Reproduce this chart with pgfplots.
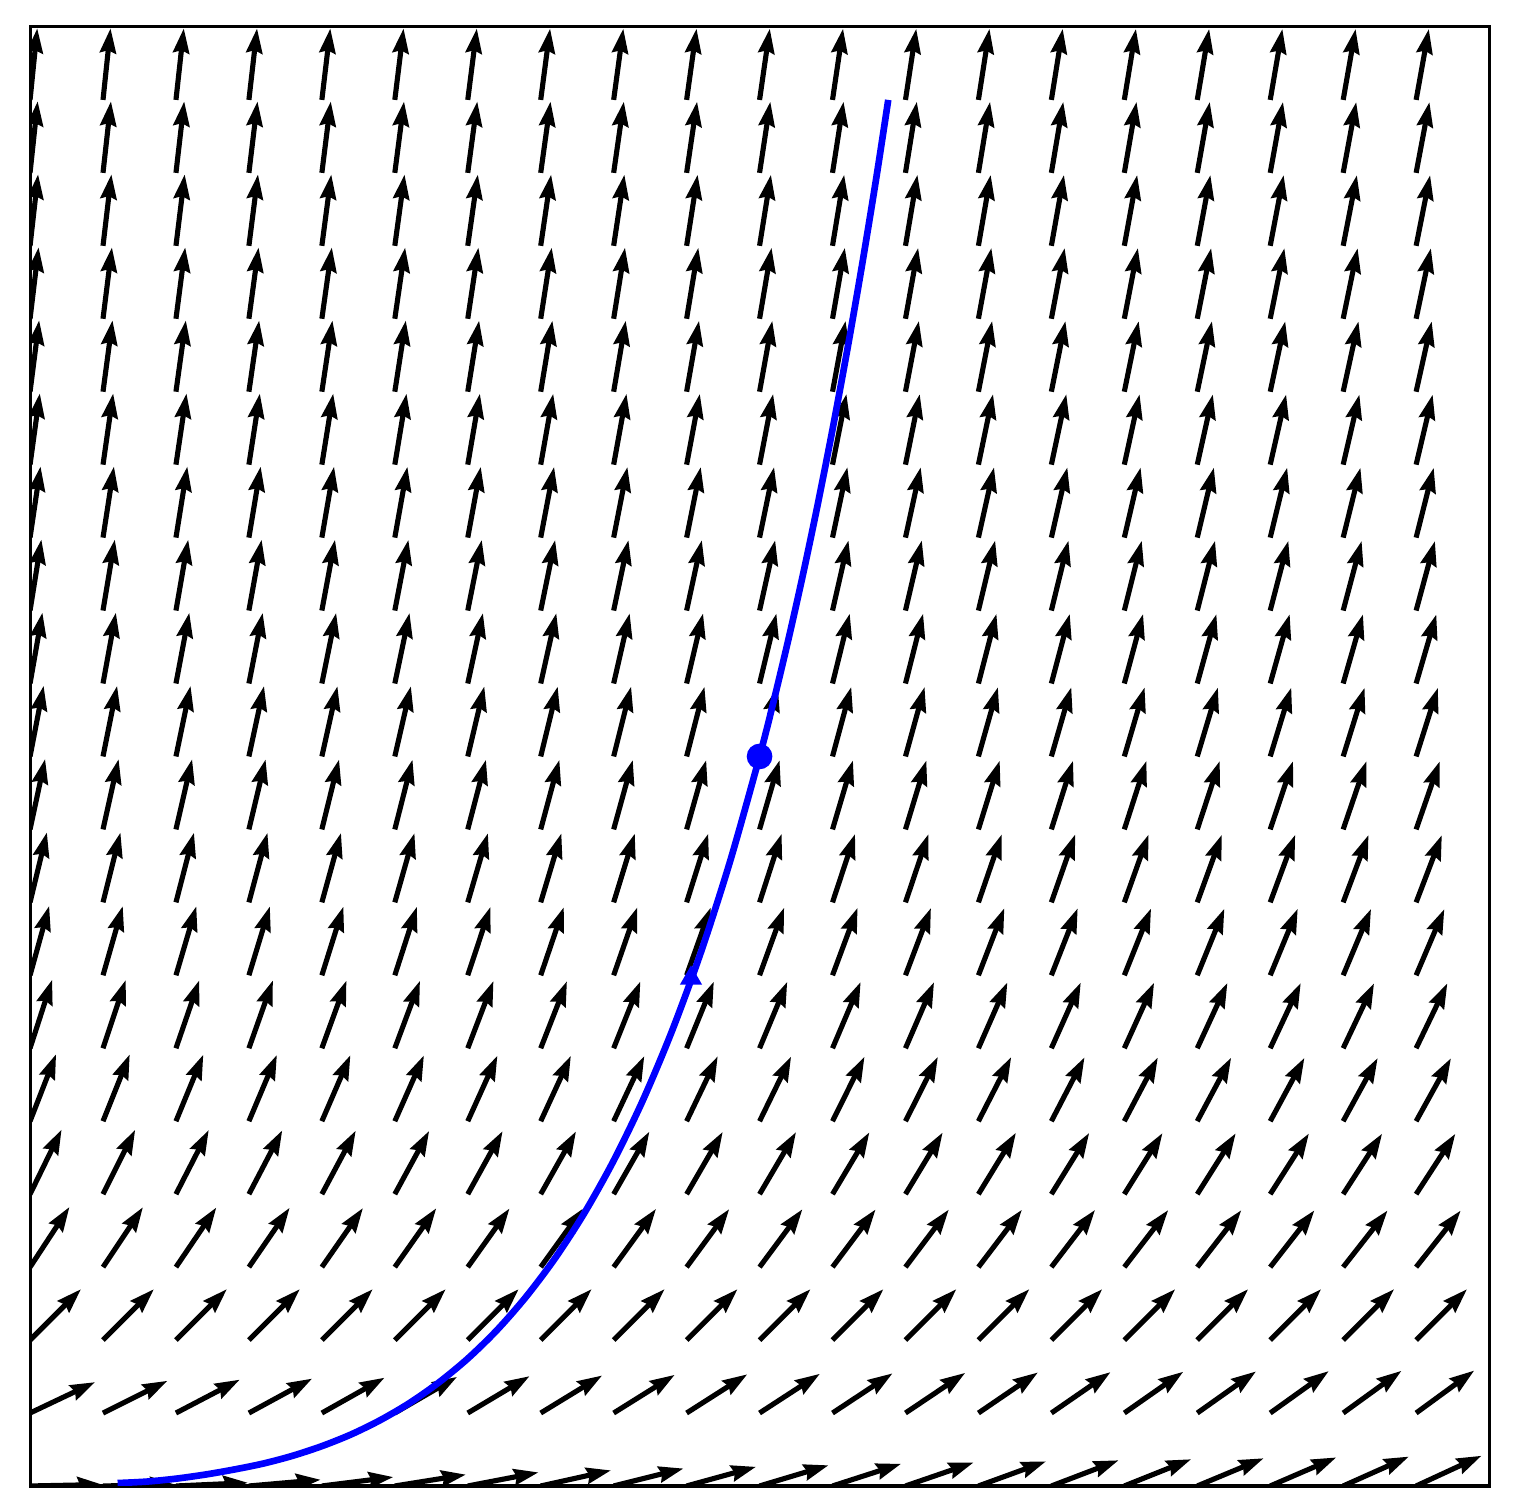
\documentclass[border=0pt]{standalone}
\usepackage{pgfplots}
\pgfplotsset{compat=1.18}
\usepackage{pgfplotstable}
\usetikzlibrary{arrows.meta}

% direction field: arrow tail (x,y) and slope s = dy/dx
\pgfplotstableread{
x y s
0.00 0.00 0.020
0.00 0.05 0.475
0.00 0.10 1.000
0.00 0.15 1.525
0.00 0.20 2.050
0.00 0.25 2.575
0.00 0.30 3.100
0.00 0.35 3.625
0.00 0.40 4.150
0.00 0.45 4.675
0.00 0.50 5.200
0.00 0.55 5.725
0.00 0.60 6.250
0.00 0.65 6.775
0.00 0.70 7.300
0.00 0.75 7.825
0.00 0.80 8.350
0.00 0.85 8.875
0.00 0.90 9.400
0.00 0.95 9.925
0.05 0.00 0.020
0.05 0.05 0.500
0.05 0.10 1.000
0.05 0.15 1.500
0.05 0.20 2.000
0.05 0.25 2.500
0.05 0.30 3.000
0.05 0.35 3.500
0.05 0.40 4.000
0.05 0.45 4.500
0.05 0.50 5.000
0.05 0.55 5.500
0.05 0.60 6.000
0.05 0.65 6.500
0.05 0.70 7.000
0.05 0.75 7.500
0.05 0.80 8.000
0.05 0.85 8.500
0.05 0.90 9.000
0.05 0.95 9.500
0.10 0.00 0.045
0.10 0.05 0.523
0.10 0.10 1.000
0.10 0.15 1.477
0.10 0.20 1.955
0.10 0.25 2.432
0.10 0.30 2.909
0.10 0.35 3.387
0.10 0.40 3.864
0.10 0.45 4.341
0.10 0.50 4.818
0.10 0.55 5.296
0.10 0.60 5.773
0.10 0.65 6.250
0.10 0.70 6.728
0.10 0.75 7.205
0.10 0.80 7.682
0.10 0.85 8.160
0.10 0.90 8.637
0.10 0.95 9.114
0.15 0.00 0.087
0.15 0.05 0.544
0.15 0.10 1.000
0.15 0.15 1.457
0.15 0.20 1.913
0.15 0.25 2.370
0.15 0.30 2.826
0.15 0.35 3.283
0.15 0.40 3.739
0.15 0.45 4.196
0.15 0.50 4.652
0.15 0.55 5.109
0.15 0.60 5.565
0.15 0.65 6.022
0.15 0.70 6.478
0.15 0.75 6.935
0.15 0.80 7.391
0.15 0.85 7.848
0.15 0.90 8.304
0.15 0.95 8.761
0.20 0.00 0.125
0.20 0.05 0.563
0.20 0.10 1.000
0.20 0.15 1.438
0.20 0.20 1.875
0.20 0.25 2.313
0.20 0.30 2.750
0.20 0.35 3.188
0.20 0.40 3.625
0.20 0.45 4.063
0.20 0.50 4.500
0.20 0.55 4.938
0.20 0.60 5.375
0.20 0.65 5.813
0.20 0.70 6.250
0.20 0.75 6.688
0.20 0.80 7.125
0.20 0.85 7.563
0.20 0.90 8.000
0.20 0.95 8.438
0.25 0.00 0.160
0.25 0.05 0.580
0.25 0.10 1.000
0.25 0.15 1.420
0.25 0.20 1.840
0.25 0.25 2.260
0.25 0.30 2.680
0.25 0.35 3.100
0.25 0.40 3.520
0.25 0.45 3.940
0.25 0.50 4.360
0.25 0.55 4.780
0.25 0.60 5.200
0.25 0.65 5.620
0.25 0.70 6.040
0.25 0.75 6.460
0.25 0.80 6.880
0.25 0.85 7.300
0.25 0.90 7.720
0.25 0.95 8.140
0.30 0.00 0.192
0.30 0.05 0.596
0.30 0.10 1.000
0.30 0.15 1.404
0.30 0.20 1.808
0.30 0.25 2.211
0.30 0.30 2.615
0.30 0.35 3.019
0.30 0.40 3.423
0.30 0.45 3.827
0.30 0.50 4.230
0.30 0.55 4.634
0.30 0.60 5.038
0.30 0.65 5.442
0.30 0.70 5.846
0.30 0.75 6.249
0.30 0.80 6.653
0.30 0.85 7.057
0.30 0.90 7.461
0.30 0.95 7.865
0.35 0.00 0.222
0.35 0.05 0.611
0.35 0.10 1.000
0.35 0.15 1.389
0.35 0.20 1.778
0.35 0.25 2.167
0.35 0.30 2.556
0.35 0.35 2.945
0.35 0.40 3.333
0.35 0.45 3.722
0.35 0.50 4.111
0.35 0.55 4.500
0.35 0.60 4.889
0.35 0.65 5.278
0.35 0.70 5.667
0.35 0.75 6.056
0.35 0.80 6.445
0.35 0.85 6.834
0.35 0.90 7.222
0.35 0.95 7.611
0.40 0.00 0.250
0.40 0.05 0.625
0.40 0.10 1.000
0.40 0.15 1.375
0.40 0.20 1.750
0.40 0.25 2.125
0.40 0.30 2.500
0.40 0.35 2.875
0.40 0.40 3.250
0.40 0.45 3.625
0.40 0.50 4.000
0.40 0.55 4.375
0.40 0.60 4.750
0.40 0.65 5.125
0.40 0.70 5.500
0.40 0.75 5.875
0.40 0.80 6.250
0.40 0.85 6.625
0.40 0.90 7.000
0.40 0.95 7.375
0.45 0.00 0.276
0.45 0.05 0.638
0.45 0.10 1.000
0.45 0.15 1.362
0.45 0.20 1.724
0.45 0.25 2.086
0.45 0.30 2.448
0.45 0.35 2.811
0.45 0.40 3.173
0.45 0.45 3.535
0.45 0.50 3.897
0.45 0.55 4.259
0.45 0.60 4.621
0.45 0.65 4.983
0.45 0.70 5.345
0.45 0.75 5.707
0.45 0.80 6.069
0.45 0.85 6.432
0.45 0.90 6.794
0.45 0.95 7.156
0.50 0.00 0.300
0.50 0.05 0.650
0.50 0.10 1.000
0.50 0.15 1.350
0.50 0.20 1.700
0.50 0.25 2.050
0.50 0.30 2.400
0.50 0.35 2.750
0.50 0.40 3.100
0.50 0.45 3.450
0.50 0.50 3.800
0.50 0.55 4.150
0.50 0.60 4.500
0.50 0.65 4.850
0.50 0.70 5.200
0.50 0.75 5.550
0.50 0.80 5.900
0.50 0.85 6.250
0.50 0.90 6.600
0.50 0.95 6.950
0.55 0.00 0.323
0.55 0.05 0.661
0.55 0.10 1.000
0.55 0.15 1.339
0.55 0.20 1.677
0.55 0.25 2.016
0.55 0.30 2.355
0.55 0.35 2.694
0.55 0.40 3.032
0.55 0.45 3.371
0.55 0.50 3.710
0.55 0.55 4.048
0.55 0.60 4.387
0.55 0.65 4.726
0.55 0.70 5.064
0.55 0.75 5.403
0.55 0.80 5.742
0.55 0.85 6.081
0.55 0.90 6.419
0.55 0.95 6.758
0.60 0.00 0.344
0.60 0.05 0.672
0.60 0.10 1.000
0.60 0.15 1.328
0.60 0.20 1.656
0.60 0.25 1.984
0.60 0.30 2.312
0.60 0.35 2.641
0.60 0.40 2.969
0.60 0.45 3.297
0.60 0.50 3.625
0.60 0.55 3.953
0.60 0.60 4.281
0.60 0.65 4.609
0.60 0.70 4.937
0.60 0.75 5.265
0.60 0.80 5.593
0.60 0.85 5.922
0.60 0.90 6.250
0.60 0.95 6.578
0.65 0.00 0.364
0.65 0.05 0.682
0.65 0.10 1.000
0.65 0.15 1.318
0.65 0.20 1.636
0.65 0.25 1.955
0.65 0.30 2.273
0.65 0.35 2.591
0.65 0.40 2.909
0.65 0.45 3.227
0.65 0.50 3.546
0.65 0.55 3.864
0.65 0.60 4.182
0.65 0.65 4.500
0.65 0.70 4.818
0.65 0.75 5.137
0.65 0.80 5.455
0.65 0.85 5.773
0.65 0.90 6.091
0.65 0.95 6.409
0.70 0.00 0.382
0.70 0.05 0.691
0.70 0.10 1.000
0.70 0.15 1.309
0.70 0.20 1.618
0.70 0.25 1.926
0.70 0.30 2.235
0.70 0.35 2.544
0.70 0.40 2.853
0.70 0.45 3.162
0.70 0.50 3.470
0.70 0.55 3.779
0.70 0.60 4.088
0.70 0.65 4.397
0.70 0.70 4.706
0.70 0.75 5.014
0.70 0.80 5.323
0.70 0.85 5.632
0.70 0.90 5.941
0.70 0.95 6.250
0.75 0.00 0.400
0.75 0.05 0.700
0.75 0.10 1.000
0.75 0.15 1.300
0.75 0.20 1.600
0.75 0.25 1.900
0.75 0.30 2.200
0.75 0.35 2.500
0.75 0.40 2.800
0.75 0.45 3.100
0.75 0.50 3.400
0.75 0.55 3.700
0.75 0.60 4.000
0.75 0.65 4.300
0.75 0.70 4.600
0.75 0.75 4.900
0.75 0.80 5.200
0.75 0.85 5.500
0.75 0.90 5.800
0.75 0.95 6.100
0.80 0.00 0.417
0.80 0.05 0.708
0.80 0.10 1.000
0.80 0.15 1.292
0.80 0.20 1.583
0.80 0.25 1.875
0.80 0.30 2.167
0.80 0.35 2.459
0.80 0.40 2.750
0.80 0.45 3.042
0.80 0.50 3.334
0.80 0.55 3.625
0.80 0.60 3.917
0.80 0.65 4.209
0.80 0.70 4.500
0.80 0.75 4.792
0.80 0.80 5.084
0.80 0.85 5.376
0.80 0.90 5.667
0.80 0.95 5.959
0.85 0.00 0.432
0.85 0.05 0.716
0.85 0.10 1.000
0.85 0.15 1.284
0.85 0.20 1.568
0.85 0.25 1.851
0.85 0.30 2.135
0.85 0.35 2.419
0.85 0.40 2.703
0.85 0.45 2.987
0.85 0.50 3.270
0.85 0.55 3.554
0.85 0.60 3.838
0.85 0.65 4.122
0.85 0.70 4.406
0.85 0.75 4.689
0.85 0.80 4.973
0.85 0.85 5.257
0.85 0.90 5.541
0.85 0.95 5.825
0.90 0.00 0.447
0.90 0.05 0.724
0.90 0.10 1.000
0.90 0.15 1.276
0.90 0.20 1.553
0.90 0.25 1.829
0.90 0.30 2.105
0.90 0.35 2.382
0.90 0.40 2.658
0.90 0.45 2.934
0.90 0.50 3.210
0.90 0.55 3.487
0.90 0.60 3.763
0.90 0.65 4.039
0.90 0.70 4.316
0.90 0.75 4.592
0.90 0.80 4.868
0.90 0.85 5.145
0.90 0.90 5.421
0.90 0.95 5.697
0.95 0.00 0.462
0.95 0.05 0.731
0.95 0.10 1.000
0.95 0.15 1.269
0.95 0.20 1.538
0.95 0.25 1.808
0.95 0.30 2.077
0.95 0.35 2.346
0.95 0.40 2.615
0.95 0.45 2.884
0.95 0.50 3.153
0.95 0.55 3.422
0.95 0.60 3.692
0.95 0.65 3.961
0.95 0.70 4.230
0.95 0.75 4.499
0.95 0.80 4.768
0.95 0.85 5.037
0.95 0.90 5.307
0.95 0.95 5.576
}\field

% solution curve
\pgfplotstableread{
x y
0.06 0.0020
0.08 0.0030
0.10 0.0050
0.12 0.0078
0.14 0.0113
0.16 0.0154
0.18 0.0207
0.20 0.0273
0.22 0.0353
0.24 0.0451
0.26 0.0568
0.28 0.0708
0.30 0.0873
0.32 0.1068
0.34 0.1297
0.36 0.1563
0.38 0.1872
0.40 0.2230
0.42 0.2643
0.44 0.3119
0.46 0.3664
0.48 0.4288
0.50 0.5000
0.51 0.5393
0.52 0.5812
0.53 0.6258
0.54 0.6734
0.55 0.7241
0.56 0.7780
0.57 0.8354
0.58 0.8965
0.5882 0.9500
}\traj

\begin{document}
\begin{tikzpicture}
\begin{axis}[
  width=10cm, height=10cm, scale only axis,
  xmin=0, xmax=1, ymin=0, ymax=1,
  xtick=\empty, ytick=\empty,
  axis line style={line width=0.6pt},
]
\addplot[black, line width=1.0pt,
  -{Stealth[length=4.8pt, width=3.1pt, inset=0.5pt]},
  quiver={u={0.0494/sqrt(1+\thisrow{s}^2)},
          v={0.0494*\thisrow{s}/sqrt(1+\thisrow{s}^2)}}]
  table {\field};

\addplot[blue, line width=1.3pt, smooth] table {\traj};
\addplot[blue, only marks, mark=*, mark size=2.3pt] coordinates {(0.5,0.5)};
\addplot[blue, only marks, mark=triangle*, mark size=2.1pt] coordinates {(0.453,0.348)};
\end{axis}
\path ([xshift=-0.206cm,yshift=-0.178cm]current axis.south west)
  rectangle ([xshift=0.171cm,yshift=0.185cm]current axis.north east);
\end{tikzpicture}
\end{document}
